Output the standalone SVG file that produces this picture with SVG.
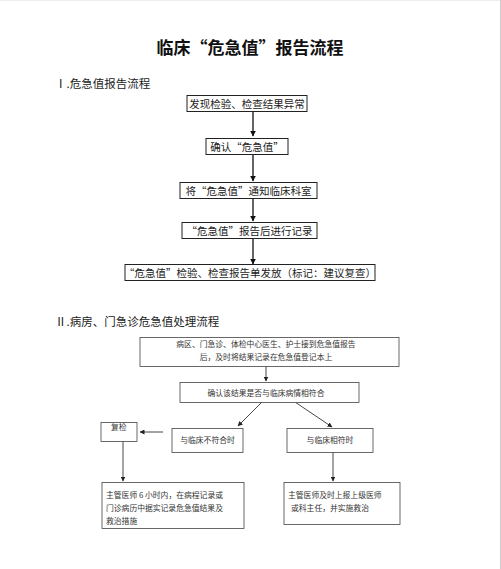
<svg xmlns="http://www.w3.org/2000/svg" width="501" height="569" viewBox="0 0 501 569">
<defs>
<marker id="ah" viewBox="0 0 10 10" refX="9" refY="5" markerWidth="6" markerHeight="6" orient="auto" markerUnits="userSpaceOnUse"><path d="M0,0 L10,5 L0,10 z" fill="#111"/></marker>
<marker id="ah2" viewBox="0 0 10 10" refX="9" refY="5" markerWidth="5" markerHeight="5" orient="auto" markerUnits="userSpaceOnUse"><path d="M0,0 L10,5 L0,10 z" fill="#222"/></marker>
</defs>
<style>
text{font-family:"Noto Sans CJK SC","Noto Sans CJK JP",sans-serif;fill:#222}
.t{font-size:17px;font-weight:bold;fill:#111}
.h{font-size:11.5px;fill:#222}
.b1{fill:#fff;stroke:#222;stroke-width:1}
.s1{font-size:10.5px}
.b2{fill:#fff;stroke:#444;stroke-width:0.8}
.s2{font-size:7.8px;fill:#333}
.c1{stroke:#111;stroke-width:1.3;fill:none;marker-end:url(#ah)}
.c2{stroke:#333;stroke-width:0.9;fill:none;marker-end:url(#ah2)}
</style>
<rect width="501" height="569" fill="#fff"/>
<line x1="0" y1="0.5" x2="501" y2="0.5" stroke="#eee" stroke-width="1"/>
<line x1="500.5" y1="0" x2="500.5" y2="569" stroke="#ccc" stroke-width="1"/>
<text class="t" x="250" y="54" text-anchor="middle">临床“危急值”报告流程</text>
<text class="h" x="55" y="88">Ⅰ.危急值报告流程</text>
<text class="h" x="55" y="326">Ⅱ.病房、门急诊危急值处理流程</text>

<g id="connectors">
<line class="c1" x1="253" y1="111" x2="253" y2="136"/>
<line class="c1" x1="253" y1="154" x2="253" y2="181"/>
<line class="c1" x1="253" y1="198" x2="253" y2="221"/>
<line class="c1" x1="253" y1="238" x2="253" y2="264"/>
<line class="c2" x1="266" y1="366" x2="266" y2="381"/>
<line class="c2" x1="262" y1="402" x2="238" y2="426"/>
<line class="c2" x1="295" y1="402" x2="332" y2="427"/>
<line class="c2" x1="163" y1="432" x2="140" y2="432"/>
<line class="c2" x1="123" y1="441" x2="123" y2="481"/>
<line class="c2" x1="333" y1="452" x2="333" y2="481"/>
</g>

<g id="n1"><rect class="b1" x="187" y="95.5" width="120" height="16"/><text class="s1" x="247" y="107.5" text-anchor="middle">发现检验、检查结果异常</text></g>
<g id="n2"><rect class="b1" x="206" y="138.5" width="82" height="16"/><text class="s1" x="247" y="150.5" text-anchor="middle">确认“危急值”</text></g>
<g id="n3"><rect class="b1" x="180" y="182.5" width="137" height="16"/><text class="s1" x="248.5" y="194.5" text-anchor="middle">将“危急值”通知临床科室</text></g>
<g id="n4"><rect class="b1" x="182" y="222.5" width="135" height="16"/><text class="s1" x="249.5" y="234.5" text-anchor="middle">“危急值”报告后进行记录</text></g>
<g id="n5"><rect class="b1" x="125" y="264.5" width="250" height="16"/><text class="s1" x="250" y="276.5" text-anchor="middle">“危急值”检验、检查报告单发放（标记：建议复查）</text></g>

<g id="nA"><rect class="b2" x="140" y="337.5" width="259" height="29"/><text class="s2" x="266" y="347" text-anchor="middle">病区、门急诊、体检中心医生、护士接到危急值报告</text><text class="s2" x="266" y="360" text-anchor="middle">后，及时将结果记录在危急值登记本上</text></g>
<g id="nB"><rect class="b2" x="180" y="382.5" width="179" height="20"/><text class="s2" x="266" y="395.5" text-anchor="middle">确认该结果是否与临床病情相符合</text></g>
<g id="nC"><rect class="b2" x="172" y="428.5" width="71" height="24"/><text class="s2" x="207.5" y="443" text-anchor="middle">与临床不符合时</text></g>
<g id="nD"><rect class="b2" x="287" y="428.5" width="86" height="24"/><text class="s2" x="330" y="443" text-anchor="middle">与临床相符时</text></g>
<g id="nR"><rect class="b2" x="101" y="422.5" width="36" height="19"/><text class="s2" x="111" y="430">复检</text></g>
<g id="nE"><rect class="b2" x="102" y="482.5" width="142" height="46"/><text class="s2" x="106" y="498">主管医师 6 小时内，在病程记录或</text><text class="s2" x="106" y="511">门诊病历中据实记录危急值结果及</text><text class="s2" x="106" y="523.5">救治措施</text></g>
<g id="nF"><rect class="b2" x="284" y="482.5" width="116" height="42"/><text class="s2" x="288" y="498">主管医师及时上报上级医师</text><text class="s2" x="291" y="511">或科主任，并实施救治</text></g>
</svg>
